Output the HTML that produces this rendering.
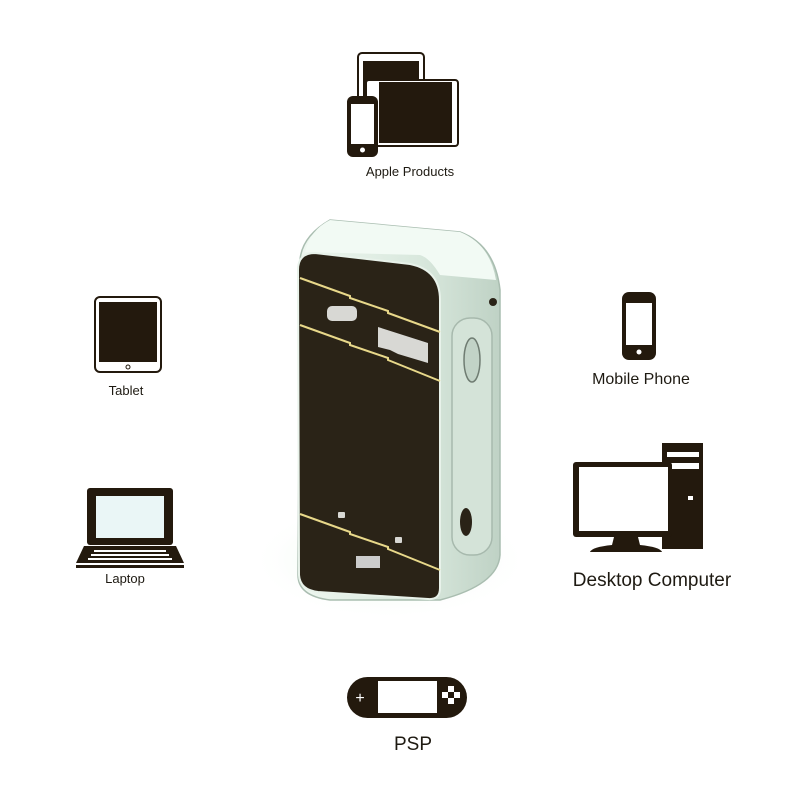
<!DOCTYPE html>
<html><head><meta charset="utf-8"><style>
html,body{margin:0;padding:0;background:#fff;}
svg{display:block}
text{font-family:"Liberation Sans",sans-serif;fill:#1e1a12}
</style></head><body>
<svg width="800" height="800" viewBox="0 0 800 800">
<defs>
<radialGradient id="glow" cx="0.5" cy="0.5" r="0.5">
<stop offset="0" stop-color="#d6f2d8"/><stop offset="1" stop-color="#ffffff" stop-opacity="0"/>
</radialGradient>
<linearGradient id="body" x1="0" y1="0" x2="1" y2="0">
<stop offset="0" stop-color="#eef7f0"/><stop offset="0.6" stop-color="#d9e8dd"/><stop offset="1" stop-color="#bfd2c5"/>
</linearGradient>
</defs>
<ellipse cx="390" cy="560" rx="140" ry="60" fill="url(#glow)"/>
<!-- device body -->
<path d="M300,260 Q302,236 330,220 L460,232 Q495,245 500,290 L500,555 Q498,585 440,600 L330,600 Q298,596 298,575 Z" fill="url(#body)" stroke="#a9bdb0" stroke-width="1.5"/>
<path d="M330,220 L460,232 Q490,244 496,280 L440,275 Q430,258 420,255 L305,252 Q310,230 330,220Z" fill="#f2faf4"/>
<!-- front panel -->
<path d="M298,270 Q298,253 315,253 L410,264 Q440,270 440,300 L440,588 Q440,600 428,599 L318,592 Q300,590 299,575 Z" fill="#2a2317" stroke="#e8f2ea" stroke-width="2"/>
<g stroke="#e8d88a" stroke-width="2" fill="none">
<path d="M300,278 L350,296 L350,298 L388,311 L388,313 L440,332"/>
<path d="M300,325 L350,343 L350,345 L388,358 L388,360 L440,381"/>
<path d="M300,514 L350,532 L350,534 L388,547 L388,549 L440,570"/>
</g>
<rect x="327" y="306" width="30" height="15" rx="5" fill="#d8d8d4"/>
<path d="M378,327 L428,343 L428,363 L398,354 L390,350 L378,347 Z" fill="#d8d8d4"/>
<rect x="338" y="512" width="7" height="6" rx="1" fill="#d8d8d4"/>
<rect x="395" y="537" width="7" height="6" rx="1" fill="#d8d8d4"/>
<rect x="356" y="556" width="24" height="12" fill="#ccc"/>
<!-- side panel -->
<rect x="452" y="318" width="40" height="237" rx="18" fill="#d4e3d8" stroke="#a7b9ad" stroke-width="1.5"/>
<ellipse cx="472" cy="360" rx="8" ry="22" fill="#c2d3c7" stroke="#6f7c72" stroke-width="1.5"/>
<ellipse cx="466" cy="522" rx="6" ry="14" fill="#2a2317"/>
<circle cx="493" cy="302" r="4" fill="#2a2317"/>
<!-- Apple products -->
<rect x="358" y="53" width="66" height="80" rx="4" fill="#fff" stroke="#23190d" stroke-width="2"/>
<rect x="363" y="61" width="56" height="40" fill="#23190d"/>
<rect x="366" y="80" width="92" height="66" rx="3" fill="#fff" stroke="#23190d" stroke-width="2"/>
<rect x="379" y="82" width="73" height="61" fill="#23190d"/>
<rect x="347" y="96" width="31" height="61" rx="6" fill="#23190d"/>
<rect x="351" y="104" width="23" height="40" fill="#fff"/>
<circle cx="362.5" cy="150" r="2.5" fill="#fff"/>
<text x="410" y="176" font-size="13" text-anchor="middle">Apple Products</text>
<!-- Tablet -->
<rect x="95" y="297" width="66" height="75" rx="5" fill="#fff" stroke="#23190d" stroke-width="2"/>
<rect x="99" y="302" width="58" height="60" fill="#23190d"/>
<circle cx="128" cy="367" r="2" fill="none" stroke="#23190d"/>
<text x="126" y="395" font-size="13" text-anchor="middle">Tablet</text>
<!-- Mobile phone -->
<rect x="622" y="292" width="34" height="68" rx="7" fill="#23190d"/>
<rect x="626" y="303" width="26" height="42" fill="#fff"/>
<circle cx="639" cy="352" r="2.5" fill="#fff"/>
<text x="641" y="384" font-size="16" text-anchor="middle">Mobile Phone</text>
<!-- Desktop -->
<rect x="662" y="443" width="41" height="106" fill="#23190d"/>
<rect x="667" y="452" width="32" height="5" fill="#fff"/>
<rect x="667" y="463" width="32" height="6" fill="#fff"/>
<rect x="688" y="496" width="5" height="4" fill="#fff"/>
<rect x="573" y="462" width="99" height="75" rx="3" fill="#23190d"/>
<rect x="579" y="467" width="89" height="64" fill="#fff"/>
<path d="M614,537 L638,537 L640,545 Q660,547 662,552 L590,552 Q592,547 612,545 Z" fill="#23190d"/>
<text x="652" y="586" font-size="19" text-anchor="middle">Desktop Computer</text>
<!-- Laptop -->
<rect x="87" y="488" width="86" height="57" rx="3" fill="#23190d"/>
<rect x="96" y="496" width="68" height="42" fill="#eaf6f6"/>
<path d="M84,546 L176,546 L184,563 L76,563 Z" fill="#23190d"/>
<g fill="#fff"><rect x="94" y="550" width="72" height="2"/><rect x="91" y="554" width="78" height="2"/><rect x="88" y="558" width="84" height="2"/></g>
<rect x="76" y="565" width="108" height="3" fill="#23190d"/>
<text x="125" y="583" font-size="13" text-anchor="middle">Laptop</text>
<!-- PSP -->
<rect x="347" y="677" width="120" height="41" rx="20.5" fill="#23190d"/>
<rect x="378" y="681" width="59" height="32" fill="#fff"/>
<text x="360" y="703" font-size="16" text-anchor="middle" style="fill:#fff">+</text>
<g fill="#fff"><rect x="448" y="686" width="6" height="6"/><rect x="442" y="692" width="6" height="6"/><rect x="454" y="692" width="6" height="6"/><rect x="448" y="698" width="6" height="6"/></g>
<text x="413" y="750" font-size="19" text-anchor="middle">PSP</text>
</svg>
</body></html>
